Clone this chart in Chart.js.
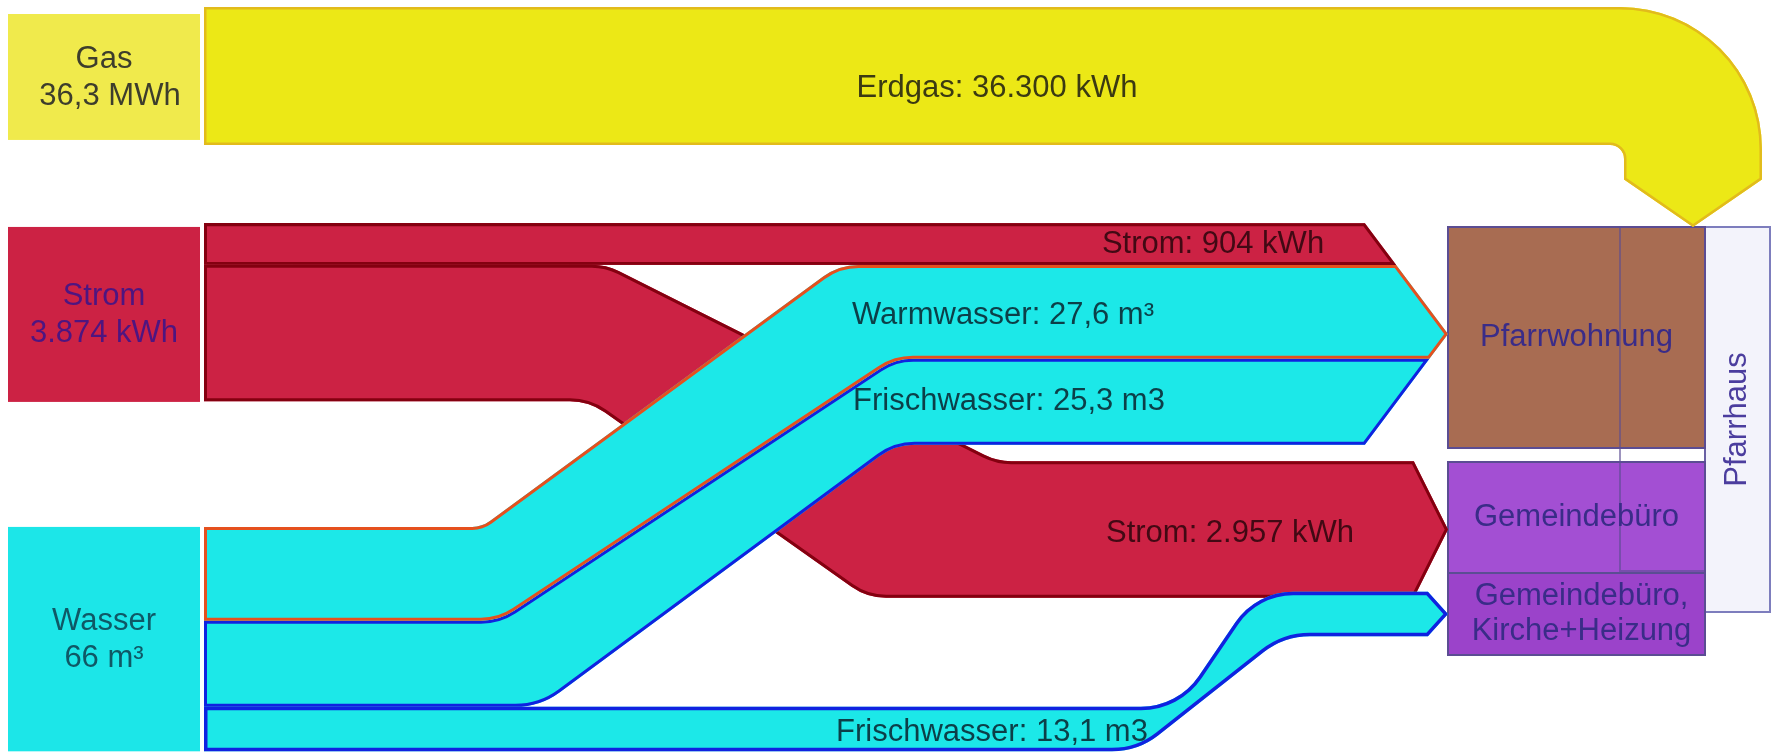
<!DOCTYPE html>
<html>
<head>
<meta charset="utf-8">
<script src="https://cdn.jsdelivr.net/npm/chart.js@4.4.1/dist/chart.umd.min.js"></script>
<style>
  html, body { margin: 0; padding: 0; background: #ffffff; }
  #wrap { width: 1777px; height: 752px; position: relative; }
</style>
</head>
<body>
<div id="wrap"><canvas id="c"></canvas></div>
<script>
// Energy and water flows of the parish buildings (Sankey style)
const sourceNames  = ['Gas', 'Strom', 'Wasser'];
const sourceTotals = [36.3, 3874, 66];
const sourceUnits  = ['MWh', 'kWh', 'm³'];

const targetNames = [['Pfarrwohnung'], ['Gemeindebüro'], ['Gemeindebüro,', 'Kirche+Heizung']];
const groupName   = 'Pfarrhaus';

const flowNames   = ['Erdgas', 'Strom', 'Warmwasser', 'Frischwasser', 'Strom', 'Frischwasser'];
const flowSources = [0, 1, 2, 2, 1, 2];
const flowTargets = [0, 0, 0, 0, 1, 2];
const flowValues  = [36300, 904, 27.6, 25.3, 2957, 13.1];
const flowUnits   = ['kWh', 'kWh', 'm³', 'm3', 'kWh', 'm3'];

// Geometry and styling of the diagram (scale units, not data)
const LAYOUT = {
  bandScale: [0.0038, 0.0462, 3.4],      // band thickness per flow unit, per source
  totalToFlowUnit: [1000, 1, 1],          // MWh -> kWh for the gas total
  srcX: [8, 200], flowX0: 204,
  srcTop: 7, srcGaps: [78, 125],
  srcInset: [[7, 5], [4, 0], [0, 0]],
  tgtX: [1448, 1705], tgtTop: 227, tgtHeights: [221, 111, 82], tgtGaps: [14, 0],
  tgtShift: [-3.5, 12, 0],
  headRatio: [0.75, 0.5, 0.9],
  innerX: 1620, innerBottom: 571,
  groupX: [1705, 1770], groupBottom: 612,
  topEntry: 0,
  bends: { 2: [482, 839, 499, 895], 3: [499, 895, 540, 895], 4: [606, 997, 589, 867], 5: [1178, 1256, 1138, 1284] },
  radius: { 2: [30, 60, 60, 60], 3: [60, 60, 75, 60], 4: [60, 60, 60, 60], 5: [70, 70, 75, 75] },
  gas: { innerX: 1624, outerExtra: 4, innerRadius: 14, headRatio: 0.69 },
  labelX: [997, 1213, 1003, 1009, 1230, 992],
  labelDy: [12, 0, 4, 0, 4, 3]
};

const STYLE = {
  font: '31px "Liberation Sans", Arial, sans-serif',
  srcFill: ['#f0ea4c', '#cc2244', '#1ce6e8'],
  srcText: ['#3d3d2c', '#4e1580', '#0f5866'],
  flowFill: ['#ece816', '#cc2244', '#1ce8e8', '#1ce8e8', '#cc2244', '#1ce8e8'],
  flowEdge: ['#e2bb1c', '#840010', '#e5501e', '#1022e0', '#840010', '#1022e0'],
  flowEdgeW: [2.5, 3, 3, 3, 3, 3.5],
  flowText: ['#3b3a12', '#420914', '#0c3f48', '#0c3f48', '#420914', '#0c3f48'],
  tgtFill: ['#a86c52', '#a34fd3', '#9b43ca'],
  tgtEdge: '#5b4d93',
  tgtText: '#3a2c88',
  groupFill: '#f3f3fb', groupEdge: '#7d7dbd', groupText: '#4b3d9e'
};

const fmt = v => v.toLocaleString('de-DE');

const flowDiagram = {
  id: 'flowDiagram',
  afterDraw(chart) {
    const ctx = chart.ctx;
    const xs = chart.scales.x, ys = chart.scales.y;
    const X = v => xs.getPixelForValue(v);
    const Y = v => ys.getPixelForValue(v);
    const L = LAYOUT;

    const thick = flowValues.map((v, i) => v * L.bandScale[flowSources[i]]);

    // source stacks
    const srcBox = [];
    let y = L.srcTop;
    sourceNames.forEach((n, i) => {
      const h = sourceTotals[i] * L.totalToFlowUnit[i] * L.bandScale[i];
      srcBox.push({ top: y, bottom: y + h });
      y += h + (L.srcGaps[i] || 0);
    });
    const srcCursor = srcBox.map(b => b.top);
    const fSrc = flowValues.map((v, i) => {
      const s = flowSources[i];
      const top = srcCursor[s];
      srcCursor[s] += thick[i];
      return { top, bottom: top + thick[i] };
    });

    // target boxes and arrival stacks
    const tgtBox = [];
    y = L.tgtTop;
    targetNames.forEach((n, i) => {
      tgtBox.push({ top: y, bottom: y + L.tgtHeights[i] });
      y += L.tgtHeights[i] + (L.tgtGaps[i] || 0);
    });
    const tgtStack = targetNames.map((n, t) => {
      let total = 0;
      flowTargets.forEach((tt, i) => { if (tt === t && i !== L.topEntry) total += thick[i]; });
      const c = (tgtBox[t].top + tgtBox[t].bottom) / 2 + L.tgtShift[t];
      return { top: c - total / 2, bottom: c + total / 2, center: c, half: total / 2 };
    });
    const tgtCursor = tgtStack.map(s => s.top);
    const fTgt = flowValues.map((v, i) => {
      if (i === L.topEntry) return null;
      const t = flowTargets[i];
      const top = tgtCursor[t];
      tgtCursor[t] += thick[i];
      return { top, bottom: top + thick[i] };
    });

    const headX = (t, yy) => {
      const s = tgtStack[t];
      const len = L.headRatio[t] * s.half;
      return L.tgtX[0] - len * Math.abs(yy - s.center) / s.half;
    };

    ctx.save();

    // group box
    ctx.fillStyle = STYLE.groupFill;
    ctx.fillRect(X(L.groupX[0]), Y(L.tgtTop), X(L.groupX[1]) - X(L.groupX[0]), Y(L.groupBottom) - Y(L.tgtTop));
    ctx.strokeStyle = STYLE.groupEdge; ctx.lineWidth = 2;
    ctx.strokeRect(X(L.groupX[0]), Y(L.tgtTop), X(L.groupX[1]) - X(L.groupX[0]), Y(L.groupBottom) - Y(L.tgtTop));

    // target nodes
    tgtBox.forEach((b, t) => {
      ctx.fillStyle = STYLE.tgtFill[t];
      ctx.fillRect(X(L.tgtX[0]), Y(b.top), X(L.tgtX[1]) - X(L.tgtX[0]), Y(b.bottom) - Y(b.top));
      ctx.strokeStyle = STYLE.tgtEdge; ctx.lineWidth = 2;
      ctx.strokeRect(X(L.tgtX[0]), Y(b.top), X(L.tgtX[1]) - X(L.tgtX[0]), Y(b.bottom) - Y(b.top));
    });
    // inner compartment outline
    ctx.globalAlpha = 0.6;
    ctx.strokeStyle = STYLE.tgtEdge; ctx.lineWidth = 2;
    ctx.strokeRect(X(L.innerX), Y(L.tgtTop), X(L.tgtX[1]) - X(L.innerX), Y(L.innerBottom) - Y(L.tgtTop));
    ctx.globalAlpha = 1;

    // source nodes
    srcBox.forEach((b, i) => {
      ctx.fillStyle = STYLE.srcFill[i];
      const t = b.top + L.srcInset[i][0], bt = b.bottom - L.srcInset[i][1];
      ctx.fillRect(X(L.srcX[0]), Y(t), X(L.srcX[1]) - X(L.srcX[0]), Y(bt) - Y(t));
    });

    const paintBand = (path, i) => {
      ctx.fillStyle = STYLE.flowFill[i];
      ctx.fill(path);
      ctx.save();
      ctx.clip(path);
      ctx.strokeStyle = STYLE.flowEdge[i];
      ctx.lineWidth = STYLE.flowEdgeW[i] * 2;
      ctx.lineJoin = 'round';
      ctx.stroke(path);
      ctx.restore();
    };

    // side-entry bands
    const bandPath = (i) => {
      const s = fSrc[i], d = fTgt[i], t = flowTargets[i];
      const st = tgtStack[t];
      const p = new Path2D();
      const b = L.bends[i];
      const r = L.radius[i] || [12, 12, 12, 12];
      const x0 = L.flowX0;
      const xTop = headX(t, d.top), xBot = headX(t, d.bottom);
      p.moveTo(X(x0), Y(s.top));
      if (b) {
        p.arcTo(X(b[0]), Y(s.top), X(b[1]), Y(d.top), r[0]);
        p.arcTo(X(b[1]), Y(d.top), X(xTop), Y(d.top), r[1]);
      }
      p.lineTo(X(xTop), Y(d.top));
      if (st.center > d.top && st.center < d.bottom) p.lineTo(X(L.tgtX[0]), Y(st.center));
      p.lineTo(X(xBot), Y(d.bottom));
      if (b) {
        p.arcTo(X(b[3]), Y(d.bottom), X(b[2]), Y(s.bottom), r[3]);
        p.arcTo(X(b[2]), Y(s.bottom), X(x0), Y(s.bottom), r[2]);
      }
      p.lineTo(X(x0), Y(s.bottom));
      p.closePath();
      return p;
    };

    const order = [4, 1, 5, 3, 2];
    order.forEach(i => paintBand(bandPath(i), i));

    // gas band entering the first target from above
    (() => {
      const i = L.topEntry, s = fSrc[i], G = L.gas;
      const h = thick[i];
      const inner = G.innerX, outer = G.innerX + h;
      const R = h + G.outerExtra;
      const tipX = (inner + outer) / 2, tipY = tgtBox[flowTargets[i]].top;
      const neck = tipY - G.headRatio * h / 2;
      const p = new Path2D();
      p.moveTo(X(L.flowX0), Y(s.top));
      p.lineTo(X(outer - R), Y(s.top));
      p.arcTo(X(outer), Y(s.top), X(outer), Y(s.top + R), X(outer) - X(outer - R));
      p.lineTo(X(outer), Y(neck));
      p.lineTo(X(tipX), Y(tipY));
      p.lineTo(X(inner), Y(neck));
      p.lineTo(X(inner), Y(s.bottom + G.innerRadius));
      p.arcTo(X(inner), Y(s.bottom), X(inner - G.innerRadius), Y(s.bottom), G.innerRadius);
      p.lineTo(X(L.flowX0), Y(s.bottom));
      p.closePath();
      paintBand(p, i);
    })();

    // labels
    ctx.font = STYLE.font;
    ctx.textAlign = 'center';
    ctx.textBaseline = 'middle';

    srcBox.forEach((b, i) => {
      const cx = (X(L.srcX[0]) + X(L.srcX[1])) / 2;
      const cy = Y((b.top + L.srcInset[i][0] + b.bottom - L.srcInset[i][1]) / 2);
      ctx.fillStyle = STYLE.srcText[i];
      ctx.fillText(sourceNames[i], cx, cy - 18);
      ctx.fillText(fmt(sourceTotals[i]) + ' ' + sourceUnits[i], cx + (i === 0 ? 6 : 0), cy + 19);
    });

    flowValues.forEach((v, i) => {
      const lx = L.labelX[i];
      const s = fSrc[i], d = fTgt[i];
      const b = L.bends[i];
      let cy;
      if (!d) cy = (s.top + s.bottom) / 2;
      else if (b && lx < Math.min(b[0], b[2])) cy = (s.top + s.bottom) / 2;
      else cy = (d.top + d.bottom) / 2;
      ctx.fillStyle = STYLE.flowText[i];
      ctx.fillText(flowNames[i] + ': ' + fmt(v) + ' ' + flowUnits[i], X(lx), Y(cy + L.labelDy[i]));
    });

    tgtBox.forEach((b, t) => {
      const cx = (X(L.tgtX[0]) + X(L.tgtX[1])) / 2;
      const cy = Y((b.top + b.bottom) / 2);
      const lines = targetNames[t];
      ctx.fillStyle = STYLE.tgtText;
      lines.forEach((ln, k) => {
        ctx.fillText(ln, cx + (lines.length > 1 ? 5 : 0), cy + (k - (lines.length - 1) / 2) * 35);
      });
    });

    ctx.save();
    ctx.translate((X(L.groupX[0]) + X(L.groupX[1])) / 2, Y((L.tgtTop + L.groupBottom) / 2));
    ctx.rotate(-Math.PI / 2);
    ctx.fillStyle = STYLE.groupText;
    ctx.fillText(groupName, 0, 0);
    ctx.restore();

    ctx.restore();
  }
};

const chart = new Chart(document.getElementById('c'), {
  type: 'scatter',
  data: { datasets: [] },
  options: {
    responsive: true,
    maintainAspectRatio: false,
    animation: false,
    layout: { padding: 0 },
    plugins: { legend: { display: false }, tooltip: { enabled: false } },
    scales: {
      x: { type: 'linear', min: 0, max: 1777, display: false },
      y: { type: 'linear', min: 0, max: 752, reverse: true, display: false }
    }
  },
  plugins: [flowDiagram]
});
</script>
</body>
</html>
